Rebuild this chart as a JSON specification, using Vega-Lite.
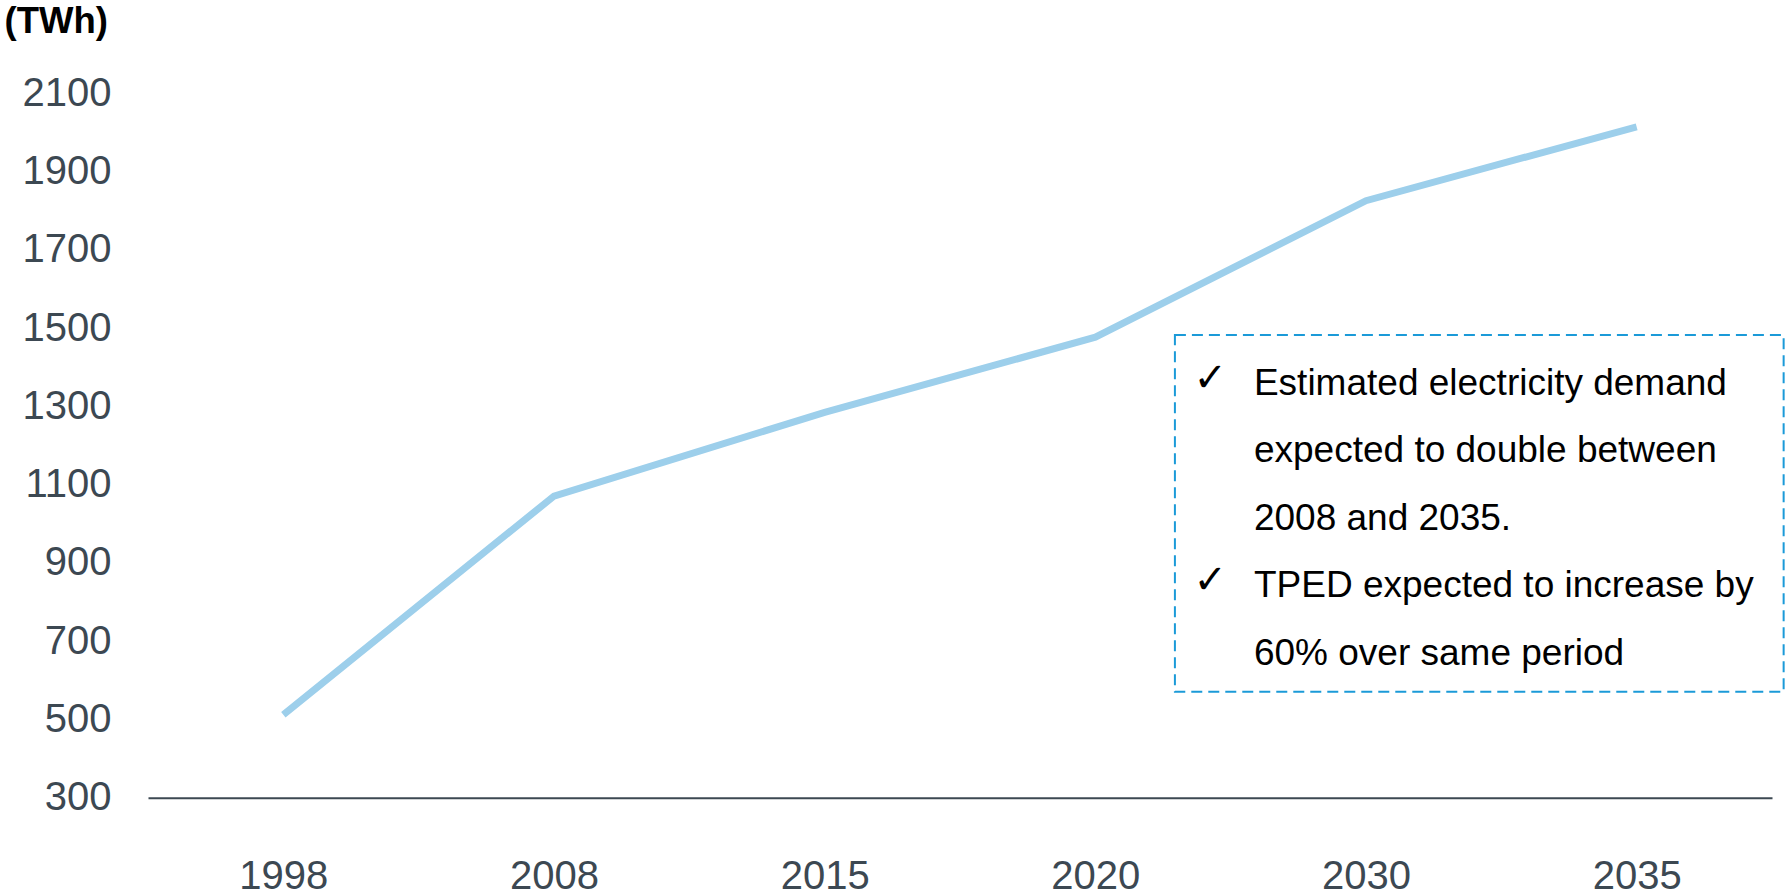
{
  "$schema": "https://vega.github.io/schema/vega-lite/v6.json",
  "width": 1624,
  "height": 704.2,
  "autosize": {"type": "none"},
  "padding": {"left": 148, "top": 93.5, "right": 15, "bottom": 98.3},
  "background": "white",
  "config": {
    "view": {"stroke": null},
    "font": "Liberation Sans",
    "axisX": {
      "labelFont": "Liberation Sans",
      "labelFontSize": 40,
      "labelColor": "#3c4852",
      "labelPadding": 59,
      "labelAngle": 0,
      "ticks": false,
      "tickSize": 0,
      "grid": false,
      "domainColor": "#3c4852",
      "domainWidth": 2
    },
    "axisY": {
      "labelFont": "Liberation Sans",
      "labelFontSize": 40,
      "labelColor": "#3c4852",
      "labelPadding": 37,
      "domain": false,
      "ticks": false,
      "tickSize": 0,
      "grid": false,
      "titleFont": "Liberation Sans",
      "titleAngle": 0,
      "titleAlign": "left",
      "titleBaseline": "alphabetic",
      "titleX": -144,
      "titleY": -61,
      "titleFontSize": 36.5,
      "titleFontWeight": "bold",
      "titleColor": "#000000"
    }
  },
  "datasets": {
    "demand": [
      {"year": "1998", "twh": 512},
      {"year": "2008", "twh": 1071},
      {"year": "2015", "twh": 1285},
      {"year": "2020", "twh": 1477},
      {"year": "2030", "twh": 1826},
      {"year": "2035", "twh": 2015}
    ],
    "box": [{"left": 3.794, "right": 6.043, "lo": 570.5, "hi": 1482.8}],
    "checks": [
      {"pos": 3.925, "val": 1339.6, "sym": "✓"},
      {"pos": 3.925, "val": 822, "sym": "✓"}
    ],
    "notes": [
      {"pos": 4.086, "val": 1329.4, "line": "Estimated electricity demand"},
      {"pos": 4.086, "val": 1156.9, "line": "expected to double between"},
      {"pos": 4.086, "val": 984.3, "line": "2008 and 2035."},
      {"pos": 4.086, "val": 811.8, "line": "TPED expected to increase by"},
      {"pos": 4.086, "val": 639.2, "line": "60% over same period"}
    ]
  },
  "layer": [
    {
      "data": {"name": "demand"},
      "mark": {"type": "line", "color": "#9dcfeb", "strokeWidth": 7},
      "encoding": {
        "x": {
          "field": "year",
          "type": "ordinal",
          "scale": {"type": "point", "padding": 0.5},
          "axis": {"title": null}
        },
        "y": {
          "field": "twh",
          "type": "quantitative",
          "title": "(TWh)",
          "scale": {"domain": [300, 2100], "nice": false, "zero": false},
          "axis": {"values": [300, 500, 700, 900, 1100, 1300, 1500, 1700, 1900, 2100], "format": "d"}
        }
      }
    },
    {
      "data": {"name": "box"},
      "mark": {"type": "rect", "fill": "transparent", "stroke": "#1b9ad8", "strokeWidth": 2, "strokeDash": [11, 6]},
      "encoding": {
        "x": {"field": "left", "type": "quantitative", "scale": {"domain": [0, 6], "nice": false, "zero": false}, "axis": null},
        "x2": {"field": "right"},
        "y": {
          "field": "lo",
          "type": "quantitative",
          "title": "(TWh)",
          "axis": {"values": [300, 500, 700, 900, 1100, 1300, 1500, 1700, 1900, 2100], "format": "d"}
        },
        "y2": {"field": "hi"}
      }
    },
    {
      "data": {"name": "checks"},
      "mark": {"type": "text", "font": "DejaVu Sans", "fontSize": 40, "align": "center", "baseline": "alphabetic", "color": "#000000"},
      "encoding": {
        "x": {"field": "pos", "type": "quantitative", "scale": {"domain": [0, 6], "nice": false, "zero": false}, "axis": null},
        "y": {
          "field": "val",
          "type": "quantitative",
          "title": "(TWh)",
          "axis": {"values": [300, 500, 700, 900, 1100, 1300, 1500, 1700, 1900, 2100], "format": "d"}
        },
        "text": {"field": "sym"}
      }
    },
    {
      "data": {"name": "notes"},
      "mark": {"type": "text", "font": "Liberation Sans", "fontSize": 37, "align": "left", "baseline": "alphabetic", "color": "#000000"},
      "encoding": {
        "x": {"field": "pos", "type": "quantitative", "scale": {"domain": [0, 6], "nice": false, "zero": false}, "axis": null},
        "y": {
          "field": "val",
          "type": "quantitative",
          "title": "(TWh)",
          "axis": {"values": [300, 500, 700, 900, 1100, 1300, 1500, 1700, 1900, 2100], "format": "d"}
        },
        "text": {"field": "line"}
      }
    }
  ],
  "resolve": {"scale": {"x": "independent"}}
}
